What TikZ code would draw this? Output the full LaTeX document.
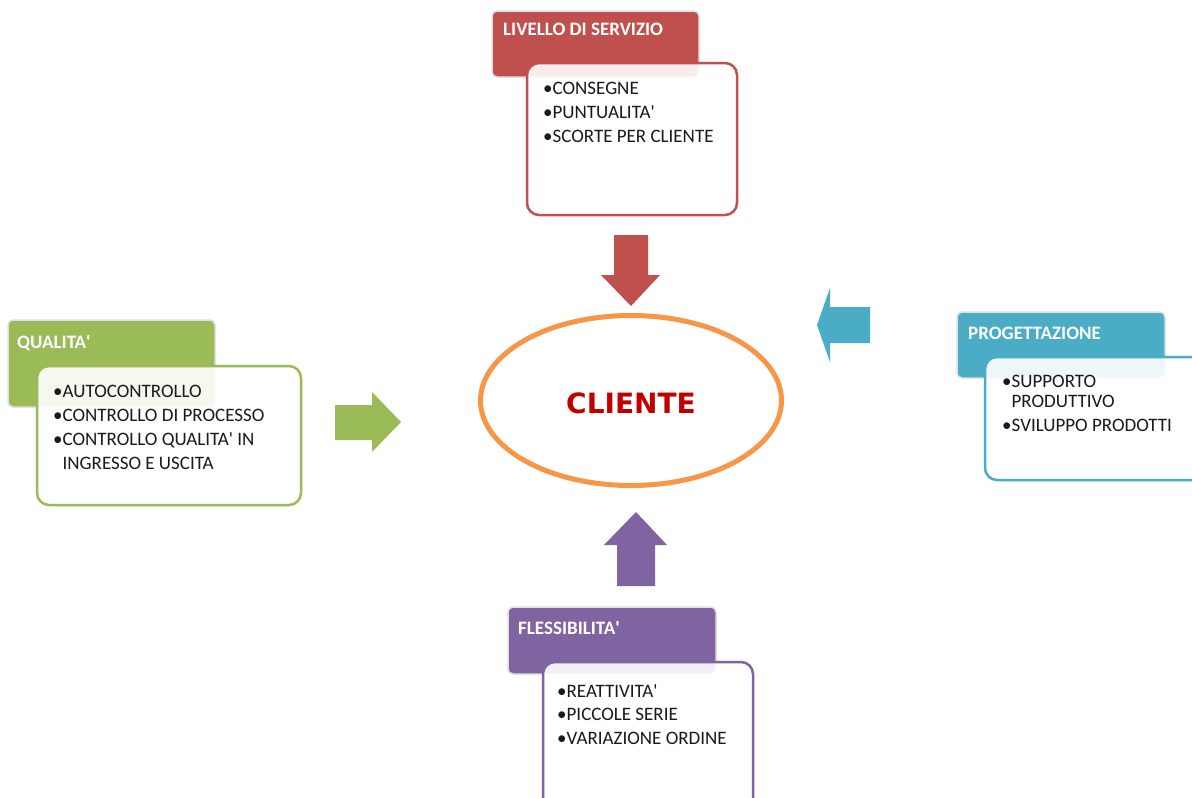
\documentclass[tikz,border=0pt]{standalone}
\usepackage{fontspec}
\setmainfont{Carlito}
\newfontfamily\clientefont{DejaVu Sans}
\usetikzlibrary{shapes.geometric}
\definecolor{cred}{HTML}{C0504D}
\definecolor{cgreen}{HTML}{9BBB59}
\definecolor{cteal}{HTML}{4BACC6}
\definecolor{cpurple}{HTML}{8064A2}
\definecolor{corange}{HTML}{F79646}
\definecolor{cdark}{HTML}{C00000}
\tikzset{
  header/.style={draw=black!12, line width=1.5pt, rounded corners=5pt},
  htext/.style={anchor=north west, text=white, font=\fontsize{19}{23}\selectfont\bfseries, inner sep=0pt},
  content/.style={fill=white, fill opacity=0.9, line width=2.5pt, rounded corners=12pt},
  btext/.style={anchor=north west, align=left, inner sep=0pt, text=black!90, font=\fontsize{19}{24}\selectfont}
}
\newcommand{\bul}{\textbullet}
\newcommand{\apo}{\textquotesingle}
\begin{document}
\begin{tikzpicture}[x=1pt,y=-1pt]
\useasboundingbox (0,0) rectangle (1192,798);
\fill[white] (0,0) rectangle (1192,798);

% ---------- LIVELLO DI SERVIZIO (red) ----------
\path[header, fill=cred] (492,11) rectangle (699,77);
\node[htext] (hred) at (503,23) {LIVELLO DI SERVIZIO};
\path[content, draw=cred] (527,63) rectangle (737,215);
\node[btext] (tred) at (543,82) {\bul CONSEGNE\\\bul PUNTUALITA\apo\\\bul SCORTE PER CLIENTE};

% ---------- QUALITA' (green) ----------
\path[header, fill=cgreen] (8,320) rectangle (215,407);
\node[htext] (hgreen) at (17,335) {QUALITA\apo};
\path[content, draw=cgreen] (37,366) rectangle (301,505);
\node[btext] (tgreen) at (53,385) {\bul AUTOCONTROLLO\\\bul CONTROLLO DI PROCESSO\\\bul CONTROLLO QUALITA\apo{} IN\\[-0.5pt]\phantom{\bul}INGRESSO E USCITA};

% ---------- PROGETTAZIONE (teal) ----------
\path[header, fill=cteal] (957,312) rectangle (1165,378);
\node[htext] (hteal) at (968,327) {PROGETTAZIONE};
\path[content, draw=cteal] (985,357) rectangle (1210,480);
\node[btext] (tteal) at (1002,375) {\bul SUPPORTO\\[-4pt]\phantom{\bul}PRODUTTIVO\\\bul SVILUPPO PRODOTTI};

% ---------- FLESSIBILITA' (purple) ----------
\path[header, fill=cpurple] (508,607) rectangle (716,674);
\node[htext] (hpurple) at (518,621) {FLESSIBILITA\apo};
\path[content, draw=cpurple] (543,662) rectangle (753,815);
\node[btext] (tpurple) at (557,684) {\bul REATTIVITA\apo\\[-0.5pt]\bul PICCOLE SERIE\\\bul VARIAZIONE ORDINE};

% ---------- CLIENTE ----------
\node[draw=corange, line width=5pt, ellipse, minimum width=301pt, minimum height=170pt, inner sep=0pt] (cliente) at (631,400.5) {};
\node[text=cdark, font=\clientefont\fontsize{28}{30}\selectfont\bfseries, inner sep=0pt] (clientetext) at (631,403) {CLIENTE};

% ---------- block arrows ----------
% red down
\fill[cred] (614,235) -- (648,235) -- (648,275) -- (660,275) -- (631,306) -- (601,275) -- (614,275) -- cycle;
% green right
\fill[cgreen] (335,405) -- (372,405) -- (372,392) -- (401,422) -- (372,452) -- (372,440) -- (335,440) -- cycle;
% teal left
\fill[cteal] (870,307) -- (830,307) -- (830,288) -- (817,325) -- (830,362) -- (830,343) -- (870,343) -- cycle;
% purple up
\fill[cpurple] (617,586) -- (617,545) -- (604,545) -- (636,512) -- (667,545) -- (655,545) -- (655,586) -- cycle;
\end{tikzpicture}
\end{document}
